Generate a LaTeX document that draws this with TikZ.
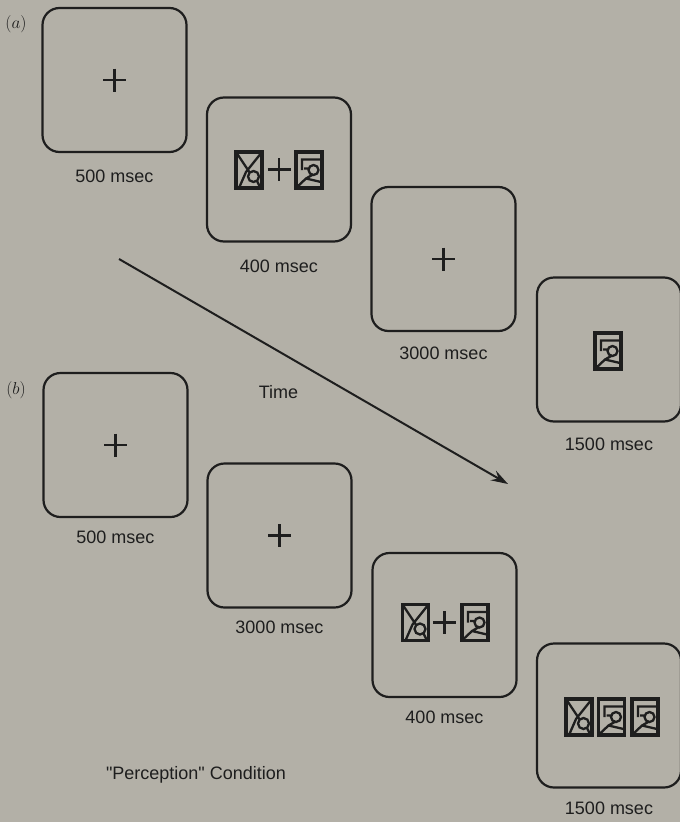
\documentclass[tikz,border=0pt]{standalone}
\usepackage{fontspec}
\setmainfont{Liberation Sans}
\newfontfamily\labelfont{Liberation Sans}
\usepackage{tikz}
\usetikzlibrary{arrows.meta}
\definecolor{paper}{RGB}{179,176,167}
\definecolor{ink}{RGB}{30,30,30}

\begin{document}
\begin{tikzpicture}[x=1pt,y=-1pt,
    screen/.style={draw=ink, line width=2.2pt, rounded corners=17pt, minimum width=144pt, minimum height=144pt, inner sep=0pt},
    dur/.style={text=ink, font=\labelfont\fontsize{18}{20}\selectfont, inner sep=0pt},
    tag/.style={text=ink, font=\fontsize{16}{18}\selectfont, inner sep=0pt},
    fix/.pic={\draw[ink, line width=2.4pt] (-11.5,0) -- (11.5,0) (0,-11.5) -- (0,11.5);},
    figx/.pic={
        \draw[ink, line width=3.2pt] (-13,-18) rectangle (13,18);
        \draw[ink, line width=2.3pt] (-13,-18) -- (1,3) (13,-18) -- (-3,2) -- (-10,18)
            (4.5,6.5) circle (5.5) (8,11) -- (11.5,18);},
    figy/.pic={
        \draw[ink, line width=3.2pt] (-13,-18) rectangle (13,18);
        \draw[ink, line width=2.3pt] (12,-10.5) -- (-7,-10.5) -- (-7,0)
            (-5,-1.5) -- (0.5,-1.5) (4.5,0) circle (5)
            (4,4.5) -- (-3,8.5) -- (-12,17) (-3,8.5) -- (12,12);}
]
    \useasboundingbox[fill=paper] (0,0) rectangle (680,822);

    \node[tag] (la) at (16,24) {$(a)$};
    \node[screen] (a1) at (114.5,80) {};
    \pic at (a1) {fix};
    \node[dur] (a1t) at (114.5,176) {500 msec};
    \node[screen] (a2) at (279,169.5) {};
    \pic at (249,170) {figx};
    \pic at (a2) {fix};
    \pic at (309,170) {figy};
    \node[dur] (a2t) at (279,266) {400 msec};
    \node[screen] (a3) at (443.5,259) {};
    \pic at (a3) {fix};
    \node[dur] (a3t) at (443.5,353) {3000 msec};
    \node[screen] (a4) at (609,349.5) {};
    \pic at (608,351) {figy};
    \node[dur] (a4t) at (609,444) {1500 msec};

    \coordinate (t0) at (119,259);
    \coordinate (t1) at (508,484);
    \draw[ink, line width=2pt, -{Stealth[length=17pt, width=11pt, inset=6pt]}] (t0) -- (t1);
    \node[dur] (time) at (278.5,392) {Time};

    \node[tag] (lb) at (16,390) {$(b)$};
    \node[screen] (b1) at (115.5,445) {};
    \pic at (b1) {fix};
    \node[dur] (b1t) at (115.5,537) {500 msec};
    \node[screen] (b2) at (279.5,535.5) {};
    \pic at (b2) {fix};
    \node[dur] (b2t) at (279.5,627) {3000 msec};
    \node[screen] (b3) at (444.5,625) {};
    \pic at (415.5,622.5) {figx};
    \pic at (444.5,622.5) {fix};
    \pic at (475,622.5) {figy};
    \node[dur] (b3t) at (444.5,717) {400 msec};
    \node[screen] (b4) at (609,715.5) {};
    \pic at (579,717) {figx};
    \pic at (611.5,717) {figy};
    \pic at (645,717) {figy};
    \node[dur] (b4t) at (609,808) {1500 msec};

    \node[dur] (cond) at (196,775) {"Perception" Condition};
\end{tikzpicture}
\end{document}
